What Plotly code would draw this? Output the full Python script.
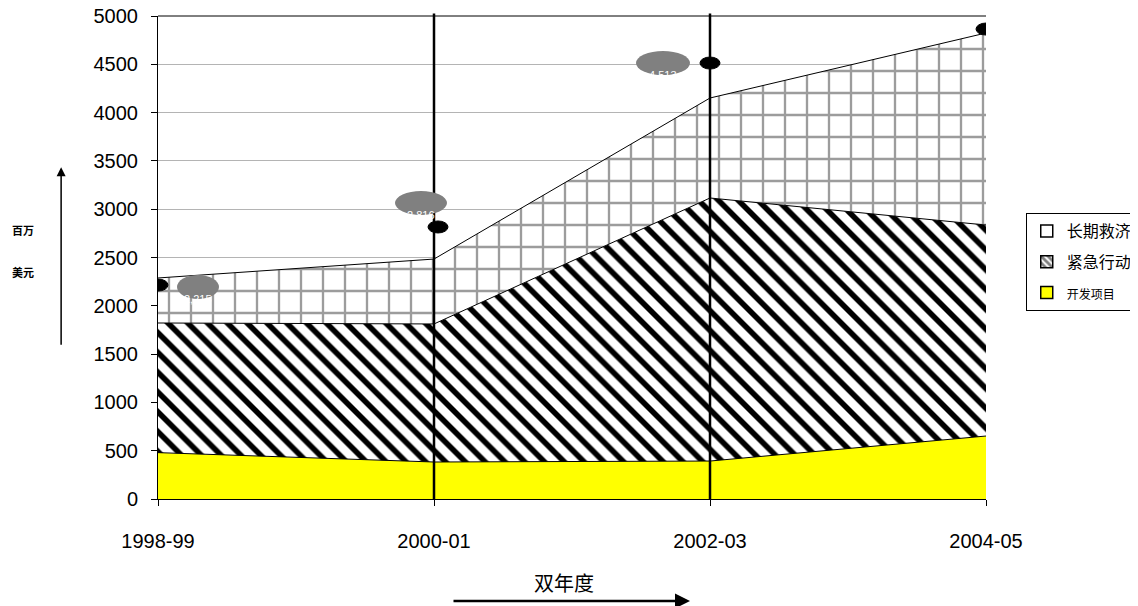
import plotly.graph_objects as go

categories = ["1998-99", "2000-01", "2002-03", "2004-05"]
development = [480, 383, 393, 652]          # 开发项目
emergency = [1342, 1429, 2723, 2184]        # 紧急行动
long_term = [466, 672, 1035, 1988]          # 长期救济
appeal_points = [2215, 2816, 4513, 4865]    # black dots
appeal_labels = ["2,215", "2,816", "4,513", "4,865"]
y_ticks = list(range(0, 5001, 500))

stripe = dict(shape="\\", fgcolor="#000000", bgcolor="white", fgopacity=1, size=14, solidity=0.4)
grid = dict(shape="+", fgcolor="#9c9c9c", bgcolor="white", fgopacity=1, size=22, solidity=0.2)

fig = go.Figure()
fig.add_trace(go.Scatter(
    x=categories, y=development, name="开发项目", stackgroup="one", showlegend=False,
    mode="lines", line=dict(color="black", width=1), fillcolor="#ffff00",
))
fig.add_trace(go.Scatter(
    x=categories, y=emergency, name="紧急行动", stackgroup="one", showlegend=False,
    mode="lines", line=dict(color="black", width=1), fillcolor="white", fillpattern=stripe,
))
fig.add_trace(go.Scatter(
    x=categories, y=long_term, name="长期救济", stackgroup="one", showlegend=False,
    mode="lines", line=dict(color="black", width=1), fillcolor="white", fillpattern=grid,
))
# legend swatches (square boxes like the reference)
fig.add_trace(go.Bar(x=[None], y=[None], name="长期救济", legendgroup="a",
                     marker=dict(color="white", line=dict(color="black", width=1.5))))
fig.add_trace(go.Bar(x=[None], y=[None], name="紧急行动", legendgroup="b",
                     marker=dict(color="white", line=dict(color="black", width=1.5),
                                 pattern=dict(shape="\\", fgcolor="black", bgcolor="white",
                                              size=6, solidity=0.6))))
fig.add_trace(go.Bar(x=[None], y=[None], name="<span style='font-size:12px'>开发项目</span>",
                     legendgroup="c",
                     marker=dict(color="#ffff00", line=dict(color="black", width=1.5))))

shapes = []
for c in [categories[1], categories[2]]:
    shapes.append(dict(type="line", xref="x", yref="paper", x0=c, x1=c, y0=0, y1=1.005,
                       line=dict(color="black", width=2.5), layer="above"))
dot_dx = [0, 4, 0, 0]
ell_dx = [40, -13, -47, 37]
ell_dy = [-2, 24, 0, 1]
ell_w = [42, 52, 54, 42]
for i, c in enumerate(categories):
    shapes.append(dict(type="circle", xref="x", yref="y", xsizemode="pixel", ysizemode="pixel",
                       xanchor=i, yanchor=appeal_points[i],
                       x0=dot_dx[i] - 10, x1=dot_dx[i] + 10, y0=-6, y1=6,
                       fillcolor="black", line=dict(color="black", width=1), layer="above"))
    shapes.append(dict(type="circle", xref="x", yref="y", xsizemode="pixel", ysizemode="pixel",
                       xanchor=i, yanchor=appeal_points[i],
                       x0=ell_dx[i] - ell_w[i] / 2, x1=ell_dx[i] + ell_w[i] / 2,
                       y0=ell_dy[i] - 12, y1=ell_dy[i] + 12,
                       fillcolor="#808080", line=dict(color="#808080", width=0), layer="above"))
shapes.append(dict(type="line", xref="paper", yref="paper", x0=0, x1=1, y0=1, y1=1,
                   line=dict(color="black", width=1)))

annotations = []
for i, c in enumerate(categories):
    annotations.append(dict(x=i, y=appeal_points[i], xref="x", yref="y",
                            xshift=ell_dx[i], yshift=ell_dy[i] - 12,
                            text=appeal_labels[i], showarrow=False,
                            font=dict(color="white", size=11, family="Liberation Sans")))

annotations += [
    dict(xref="paper", yref="paper", x=-0.163, y=0.557, text="<b>百万</b>", showarrow=False,
         xanchor="center", yanchor="middle",
         font=dict(size=11, family="Noto Sans CJK SC", color="black")),
    dict(xref="paper", yref="paper", x=-0.163, y=0.47, text="<b>美元</b>", showarrow=False,
         xanchor="center", yanchor="middle",
         font=dict(size=11, family="Noto Sans CJK SC", color="black")),
    dict(xref="paper", yref="paper", x=-0.117, y=0.687, ax=0, ay=179,
         axref="pixel", ayref="pixel", text="", showarrow=True, arrowhead=2,
         arrowsize=1.2, arrowwidth=1.5, arrowcolor="black"),
    dict(xref="paper", yref="paper", x=0.49, y=-0.172, text="双年度", showarrow=False,
         xanchor="center", yanchor="middle",
         font=dict(size=20, family="Noto Sans CJK SC", color="black")),
    dict(xref="paper", yref="paper", x=0.6425, y=-0.211, ax=-238, ay=0,
         axref="pixel", ayref="pixel", text="", showarrow=True, arrowhead=2,
         arrowsize=1.2, arrowwidth=2.5, arrowcolor="black"),
]

fig.update_layout(
    width=1138, height=606,
    margin=dict(l=150, r=160, t=8, b=115, autoexpand=False),
    paper_bgcolor="white", plot_bgcolor="white",
    font=dict(family="Liberation Sans", size=20, color="black"),
    showlegend=True,
    legend=dict(x=1.048, y=0.592, xanchor="left", yanchor="top",
                bordercolor="black", borderwidth=1, traceorder="grouped",
                font=dict(size=16, family="Noto Sans CJK SC"),
                itemwidth=30, tracegroupgap=7, bgcolor="white"),
    shapes=shapes,
    annotations=annotations,
    xaxis=dict(type="category", range=[0, 3], showgrid=False, showline=True,
               linecolor="black", linewidth=1, ticks="outside", ticklen=6,
               tickcolor="black", tickfont=dict(size=20), automargin=False,
               ticklabelstandoff=18),
    yaxis=dict(range=[0, 5000], tickvals=y_ticks, showgrid=True, gridcolor="#b4b4b4",
               gridwidth=1, showline=True, linecolor="black", linewidth=1,
               ticks="outside", ticklen=6, tickcolor="black", tickfont=dict(size=20),
               zeroline=False, automargin=False, ticklabelstandoff=9,
               ticklabeloverflow="allow"),
)

fig.write_html("out.html")
